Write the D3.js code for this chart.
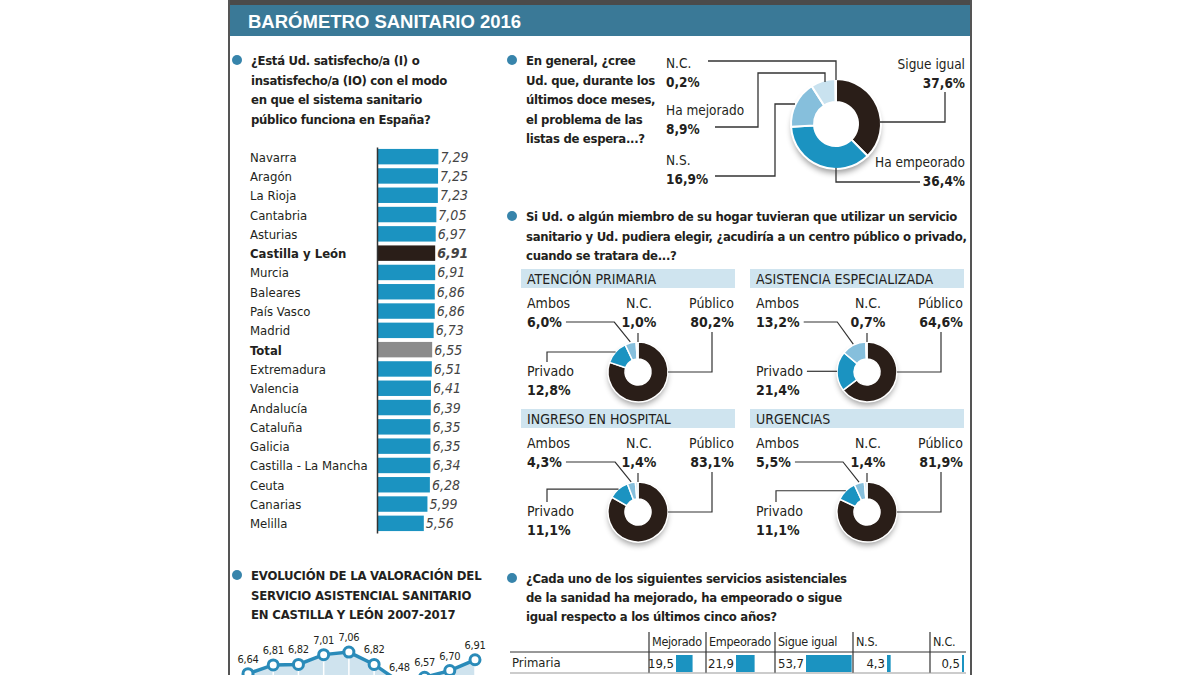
<!DOCTYPE html>
<html>
<head>
<meta charset="utf-8">
<script src="https://cdn.jsdelivr.net/npm/d3@7"></script>
<style>
  body { margin: 0; background: #fff; }
  svg { display: block; }
  text { font-family: 'Liberation Sans Narrow', 'Arial Narrow', 'DejaVu Sans Condensed', sans-serif; fill: #231f20; }
</style>
</head>
<body>
<svg id="chart" width="1200" height="675"></svg>
<script>
// ---- data ----
var regions = ["Navarra", "Aragón", "La Rioja", "Cantabria", "Asturias", "Castilla y León", "Murcia", "Baleares",
  "País Vasco", "Madrid", "Total", "Extremadura", "Valencia", "Andalucía", "Cataluña", "Galicia",
  "Castilla - La Mancha", "Ceuta", "Canarias", "Melilla"];
var regionScores = [7.29, 7.25, 7.23, 7.05, 6.97, 6.91, 6.91, 6.86, 6.86, 6.73, 6.55, 6.51, 6.41, 6.39, 6.35, 6.35,
  6.34, 6.28, 5.99, 5.56];

var evolYears = ["2008", "2009", "2010", "2011", "2012", "2013", "2014", "2015", "2016", "2017"];
var evolScores = [6.64, 6.81, 6.82, 7.01, 7.06, 6.82, 6.48, 6.57, 6.70, 6.91];

var waitLabels = ["Sigue igual", "Ha empeorado", "N.S.", "Ha mejorado", "N.C."];
var waitValues = [37.6, 36.4, 16.9, 8.9, 0.2];

var choiceLabels = ["Público", "Privado", "Ambos", "N.C."];
var services = ["ATENCIÓN PRIMARIA", "ASISTENCIA ESPECIALIZADA", "INGRESO EN HOSPITAL", "URGENCIAS"];
var primariaValues = [80.2, 12.8, 6.0, 1.0];
var especializadaValues = [64.6, 21.4, 13.2, 0.7];
var hospitalValues = [83.1, 11.1, 4.3, 1.4];
var urgenciasValues = [81.9, 11.1, 5.5, 1.4];

var changeColumns = ["Mejorado", "Empeorado", "Sigue igual", "N.S.", "N.C."];
var changeRows = ["Primaria"];
var primariaChange = [19.5, 21.9, 53.7, 4.3, 0.5];

// ---- setup ----
var locale = d3.formatLocale({decimal: ",", thousands: ".", grouping: [3], currency: ["", " €"]});
var f2 = locale.format(".2f"), f1 = locale.format(".1f");

var blue = "#1b93c1", dark = "#2a1e18", mid = "#86bfdc", pale = "#c9e2ef", bulletC = "#3784ab";
var svg = d3.select("#chart");

// bold question blocks, one tspan per line
function lines(x, y, arr, lh, size, spacing) {
  var t = svg.append("text").attr("x", x).attr("y", y)
    .style("font-size", size + "px").style("font-weight", "bold")
    .style("letter-spacing", (spacing || 0) + "px");
  arr.forEach(function(s, i) {
    t.append("tspan").attr("x", x).attr("y", y + i * lh).text(s);
  });
  return t;
}
function bullet(x, y) {
  svg.append("circle").attr("cx", x).attr("cy", y).attr("r", 5).attr("fill", bulletC);
}

// frame + header
svg.append("rect").attr("x", 228).attr("y", 0).attr("width", 744).attr("height", 5).attr("fill", "#4b4b4b");
svg.append("rect").attr("x", 229).attr("y", 5).attr("width", 742).attr("height", 31).attr("fill", "#3a7997");
svg.append("line").attr("x1", 229).attr("x2", 229).attr("y1", 0).attr("y2", 675).attr("stroke", "#555").attr("stroke-width", 2);
svg.append("line").attr("x1", 971).attr("x2", 971).attr("y1", 0).attr("y2", 675).attr("stroke", "#555").attr("stroke-width", 2);
svg.append("text").attr("x", 248).attr("y", 28).text("BARÓMETRO SANITARIO 2016")
  .style("font-family", "'Liberation Sans', Arial, sans-serif")
  .style("font-size", "18.5px").style("font-weight", "bold").style("fill", "#fff");

// shadow blur
var defs = svg.append("defs");
defs.append("filter").attr("id", "blur").attr("x", "-50%").attr("y", "-50%").attr("width", "200%").attr("height", "200%")
  .append("feGaussianBlur").attr("stdDeviation", 3);

// ---- regional bar chart ----
bullet(237, 60);
lines(251, 65, ["¿Está Ud. satisfecho/a (I) o", "insatisfecho/a (IO) con el modo", "en que el sistema sanitario",
  "público funciona en España?"], 19.5, 13, -0.3);

var x = d3.scaleLinear().domain([0, 8]).range([377, 377 + 8 * 8.42]);
var y = d3.scaleBand().domain(regions).range([147, 533]).paddingInner(0.2).paddingOuter(0.1);

svg.selectAll(".bar").data(regions).enter().append("rect")
  .attr("x", x(0))
  .attr("y", function(d) { return y(d); })
  .attr("width", function(d, i) { return x(regionScores[i]) - x(0); })
  .attr("height", y.bandwidth())
  .attr("fill", function(d) { return d == "Castilla y León" ? dark : d == "Total" ? "#8b8b8b" : blue; });

svg.append("g").attr("transform", "translate(" + x(0) + ",0)")
  .call(d3.axisLeft(y).tickSize(0).tickFormat(""))
  .call(function(g) { g.select(".domain").attr("stroke", "#333").attr("stroke-width", 1.5); });

svg.selectAll(".rlab").data(regions).enter().append("text")
  .attr("x", 250)
  .attr("y", function(d) { return y(d) + y.bandwidth() / 2 + 5; })
  .style("font-size", "13px")
  .style("font-weight", function(d) { return d == "Castilla y León" || d == "Total" ? "bold" : "normal"; })
  .text(function(d) { return d; });

svg.selectAll(".rval").data(regions).enter().append("text")
  .attr("x", function(d, i) { return x(regionScores[i]) + 2; })
  .attr("y", function(d) { return y(d) + y.bandwidth() / 2 + 5; })
  .style("font-size", "14px").style("font-style", "italic")
  .style("font-weight", function(d) { return d == "Castilla y León" ? "bold" : "normal"; })
  .style("fill", "#444")
  .text(function(d, i) { return f2(regionScores[i]); });

// ---- evolution line ----
bullet(237, 575);
lines(251, 580, ["EVOLUCIÓN DE LA VALORACIÓN DEL", "SERVICIO ASISTENCIAL SANITARIO", "EN CASTILLA Y LEÓN 2007-2017"], 19.5, 13, -0.2);

var lx = d3.scalePoint().domain(evolYears).range([248, 475]);
var ly = d3.scaleLinear().domain([6.4, 7.1]).range([686, 650]);

svg.append("path").datum(evolScores)
  .attr("fill", "#cfe3ee")
  .attr("d", d3.area().x(function(d, i) { return lx(evolYears[i]); }).y0(700).y1(function(d) { return ly(d); }));
svg.selectAll(".vgrid").data(evolScores).enter().append("line")
  .attr("x1", function(d, i) { return lx(evolYears[i]); }).attr("x2", function(d, i) { return lx(evolYears[i]); })
  .attr("y1", function(d) { return ly(d); }).attr("y2", 700)
  .attr("stroke", "#fff").attr("stroke-width", 1.5);
svg.append("path").datum(evolScores)
  .attr("fill", "none").attr("stroke", "#2a8bb9").attr("stroke-width", 3.5)
  .attr("d", d3.line().x(function(d, i) { return lx(evolYears[i]); }).y(function(d) { return ly(d); }));
svg.selectAll(".dot").data(evolScores).enter().append("circle")
  .attr("cx", function(d, i) { return lx(evolYears[i]); }).attr("cy", function(d) { return ly(d); })
  .attr("r", 5).attr("fill", "#fff").attr("stroke", "#2a8bb9").attr("stroke-width", 3);
svg.selectAll(".evlab").data(evolScores).enter().append("text")
  .attr("x", function(d, i) { return lx(evolYears[i]); }).attr("y", function(d) { return ly(d) - 11; })
  .attr("text-anchor", "middle").style("font-size", "11px").style("letter-spacing", "-0.3px")
  .text(function(d) { return f2(d); });

// ---- waiting lists donut ----
bullet(512, 60);
lines(526, 65, ["En general, ¿cree", "Ud. que, durante los", "últimos doce meses,", "el problema de las",
  "listas de espera...?"], 19.5, 13, -0.3);

var wc = [836, 124], wR = 45, wr = 22;
var waitColors = [dark, blue, mid, pale, "#e3eff6"];
var wg = svg.append("g").attr("transform", "translate(" + wc + ")");
wg.append("circle").attr("cy", 5).attr("r", wR - 1).attr("fill", "#000").attr("opacity", 0.4).attr("filter", "url(#blur)");
wg.append("circle").attr("r", wR).attr("fill", "#fff");
wg.selectAll("path").data(d3.pie().sort(null)(waitValues)).enter().append("path")
  .attr("d", d3.arc().innerRadius(wr).outerRadius(wR))
  .attr("fill", function(d, i) { return waitColors[i]; })
  .attr("stroke", "#fff").attr("stroke-width", 2);

// label position and leader route (offsets from donut centre)
var waitLayout = [
  {x: 965, y: 69, anchor: "end", route: [[109, -32], [109, -2], [44, -2]]},
  {x: 965, y: 167, anchor: "end", route: [[0, 44], [0, 58], [84, 58]]},
  {x: 666, y: 165, anchor: "start", route: [[-121, 52], [-61, 52], [-61, -20], [-41, -20]]},
  {x: 666, y: 115, anchor: "start", route: [[-121, 3], [-78, 3], [-78, -51], [-11, -51], [-11, -42]]},
  {x: 666, y: 68, anchor: "start", route: [[-128, -63], [0, -63], [0, -44]]}
];
waitLabels.forEach(function(lab, i) {
  var L = waitLayout[i];
  wg.append("path").attr("d", d3.line()(L.route)).attr("fill", "none").attr("stroke", "#333").attr("stroke-width", 1.3);
  svg.append("text").attr("x", L.x).attr("y", L.y).attr("text-anchor", L.anchor).style("font-size", "13.5px").text(lab);
  svg.append("text").attr("x", L.x).attr("y", L.y + 19).attr("text-anchor", L.anchor)
    .style("font-size", "13.5px").style("font-weight", "bold").text(f1(waitValues[i]) + "%");
});

// ---- public / private donuts ----
bullet(512, 216);
lines(526, 221, ["Si Ud. o algún miembro de su hogar tuvieran que utilizar un servicio",
  "sanitario y Ud. pudiera elegir, ¿acudiría a un centro público o privado,", "cuando se tratara de...?"], 19.5, 13, -0.3);

var serviceValues = [primariaValues, especializadaValues, hospitalValues, urgenciasValues];
var panelX = d3.scaleOrdinal().domain(services).range([521, 750, 521, 750]);
var panelY = d3.scaleOrdinal().domain(services).range([269, 269, 409, 409]);
var choiceColors = [dark, blue, mid, pale];
var R = 30, r = 13;

services.forEach(function(name, k) {
  var x0 = panelX(name), y0 = panelY(name), vals = serviceValues[k];
  var cx = x0 + 117, cy = y0 + 103;
  svg.append("rect").attr("x", x0).attr("y", y0).attr("width", 214).attr("height", 19).attr("fill", "#cfe4ef");
  svg.append("text").attr("x", x0 + 6).attr("y", y0 + 15).style("font-size", "14px").text(name);

  var g = svg.append("g").attr("transform", "translate(" + cx + "," + cy + ")");
  g.append("circle").attr("cy", 4).attr("r", R - 1).attr("fill", "#000").attr("opacity", 0.4).attr("filter", "url(#blur)");
  g.append("circle").attr("r", R).attr("fill", "#fff");
  var arcs = d3.pie().sort(null)(vals);
  g.selectAll("path").data(arcs).enter().append("path")
    .attr("d", d3.arc().innerRadius(r).outerRadius(R))
    .attr("fill", function(d, i) { return choiceColors[i]; })
    .attr("stroke", "#fff").attr("stroke-width", 1.5);

  function mp(d, rad) {
    var a = (d.startAngle + d.endAngle) / 2;
    return [cx + rad * Math.sin(a), cy - rad * Math.cos(a)];
  }
  function txt(x, yy, s, anchor, bold) {
    return svg.append("text").attr("x", x).attr("y", yy).attr("text-anchor", anchor)
      .style("font-size", "14px").style("font-weight", bold ? "bold" : "normal").text(s);
  }
  function lead(pts) {
    svg.append("path").attr("d", d3.line()(pts)).attr("fill", "none").attr("stroke", "#333").attr("stroke-width", 1.2);
  }

  // Público
  txt(x0 + 213, y0 + 39, choiceLabels[0], "end");
  txt(x0 + 213, y0 + 58, f1(vals[0]) + "%", "end", true);
  lead([[x0 + 191, y0 + 63], [x0 + 191, cy], [cx + R, cy]]);
  // Ambos
  txt(x0 + 6, y0 + 39, choiceLabels[2], "start");
  var am = txt(x0 + 6, y0 + 58, f1(vals[2]) + "%", "start", true);
  var ap = mp(arcs[2], R + 1);
  lead([[x0 + 10 + am.node().getComputedTextLength(), y0 + 53], [ap[0] - 16, y0 + 53], ap]);
  // N.C.
  txt(cx + 1, y0 + 39, choiceLabels[3], "middle");
  txt(cx + 1, y0 + 58, f1(vals[3]) + "%", "middle", true);
  lead([[cx, y0 + 64], [cx, cy - R]]);
  // Privado
  var pl = txt(x0 + 6, y0 + 107, choiceLabels[1], "start");
  txt(x0 + 6, y0 + 126, f1(vals[1]) + "%", "start", true);
  var pp = mp(arcs[1], R);
  if (Math.abs(pp[1] - (y0 + 102)) < 8) {
    lead([[x0 + 10 + pl.node().getComputedTextLength(), pp[1]], pp]);
  } else {
    lead([[x0 + 26, y0 + 93], [x0 + 26, pp[1]], pp]);
  }
});

// ---- change table ----
bullet(512, 578);
lines(526, 583, ["¿Cada uno de los siguientes servicios asistenciales", "de la sanidad ha mejorado, ha empeorado o sigue",
  "igual respecto a los últimos cinco años?"], 19, 13, -0.3);

var colX = d3.scaleOrdinal().domain(changeColumns).range([649, 706, 775, 853, 930]);
var barOff = [27, 30, 31, 34, 32];
var bw = d3.scaleLinear().domain([0, 60]).range([0, 51]);
var rowY = d3.scaleBand().domain(changeRows).range([652, 673]);

svg.selectAll(".colline").data(changeColumns).enter().append("line")
  .attr("x1", function(d) { return colX(d); }).attr("x2", function(d) { return colX(d); })
  .attr("y1", 632).attr("y2", 673).attr("stroke", "#333").attr("stroke-width", 1.2);
svg.append("line").attr("x1", 510).attr("x2", 966).attr("y1", 652).attr("y2", 652).attr("stroke", "#333");
svg.append("line").attr("x1", 510).attr("x2", 966).attr("y1", 673).attr("y2", 673).attr("stroke", "#999");
svg.selectAll(".colhead").data(changeColumns).enter().append("text")
  .attr("x", function(d) { return colX(d) + 3; }).attr("y", 646)
  .style("font-size", "12.5px").style("letter-spacing", "-0.3px").text(function(d) { return d; });

changeRows.forEach(function(row) {
  var yy = rowY(row);
  svg.append("text").attr("x", 512).attr("y", yy + 15).style("font-size", "13px").text(row);
  svg.selectAll(".cbar").data(changeColumns).enter().append("rect")
    .attr("x", function(d, i) { return colX(d) + barOff[i]; })
    .attr("y", yy + 3).attr("height", 17)
    .attr("width", function(d, i) { return Math.max(2, bw(primariaChange[i])); })
    .attr("fill", blue);
  svg.selectAll(".cval").data(changeColumns).enter().append("text")
    .attr("x", function(d, i) { return colX(d) + barOff[i] - 2; })
    .attr("y", yy + 16).attr("text-anchor", "end")
    .style("font-size", "13px").text(function(d, i) { return f1(primariaChange[i]); });
});
</script>
</body>
</html>
